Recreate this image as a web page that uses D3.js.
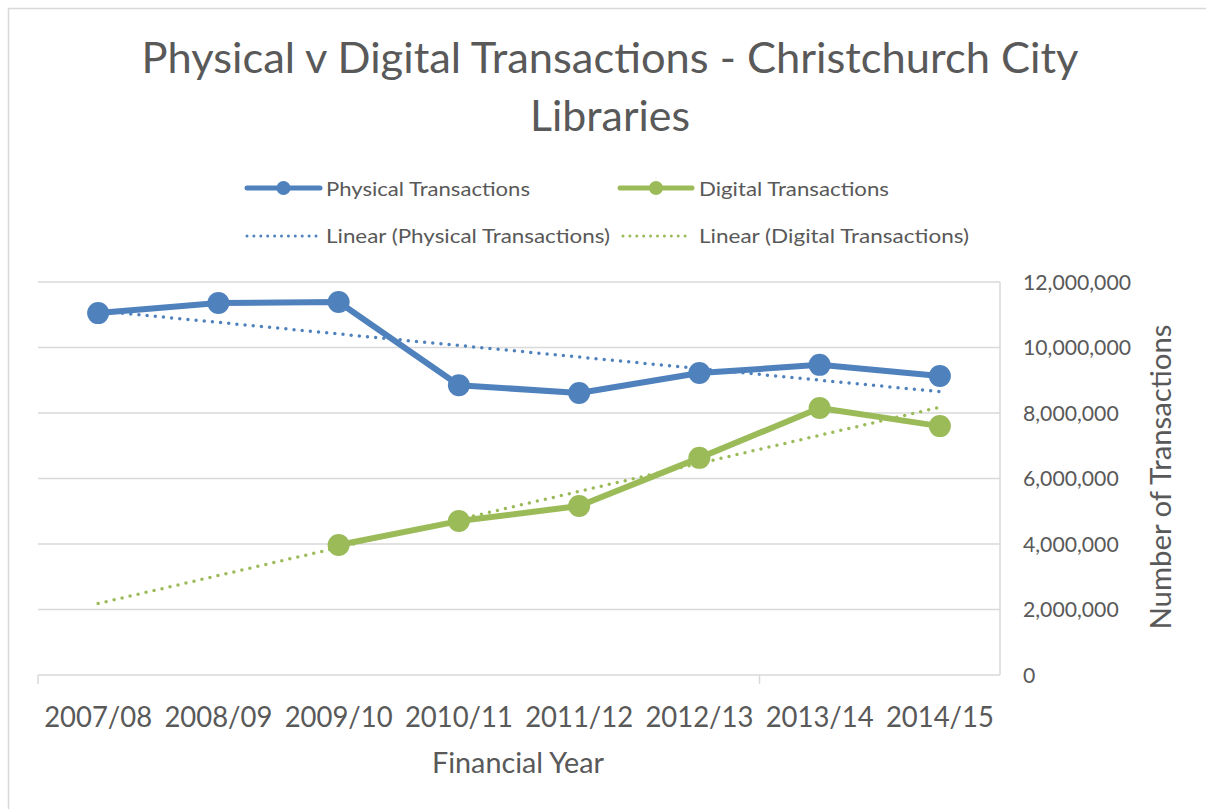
<!DOCTYPE html>
<html>
<head>
<meta charset="utf-8">
<script src="https://cdn.jsdelivr.net/npm/d3@7"></script>
<style>
  html, body { margin: 0; padding: 0; background: #fff; }
  svg { display: block; }
  text { font-family: Lato, "Open Sans", sans-serif; fill: #595959; }
</style>
</head>
<body>
<svg id="chart" width="1206" height="809"></svg>
<script>
// ---- Data ----
const categories = ["2007/08", "2008/09", "2009/10", "2010/11", "2011/12", "2012/13", "2013/14", "2014/15"];
const physicalValues = [11050000, 11360000, 11390000, 8850000, 8610000, 9220000, 9470000, 9130000];
const digitalValues  = [null, null, 3970000, 4700000, 5160000, 6630000, 8150000, 7600000];
const yTicks = [0, 2000000, 4000000, 6000000, 8000000, 10000000, 12000000];
const seriesNames = ["Physical Transactions", "Digital Transactions"];
const trendNames = ["Linear (Physical Transactions)", "Linear (Digital Transactions)"];
const titleLines = ["Physical v Digital Transactions - Christchurch City", "Libraries"];
const xTitle = "Financial Year";
const yTitle = "Number of Transactions";

// ---- Styles ----
const BLUE = "#4F81BD", GREEN = "#9BBB59", GRID = "#d9d9d9", TEXT = "#595959";

const svg = d3.select("#chart");

function fit(sel, target) {
  sel.attr("textLength", target).attr("lengthAdjust", "spacingAndGlyphs");
  return sel;
}

// chart border (top & left visible)
svg.append("path").attr("d", "M8.5,809 L8.5,8.5 L1206,8.5")
  .attr("fill", "none").attr("stroke", GRID).attr("stroke-width", 1.5);

// ---- Scales ----
const x = d3.scaleBand().domain(categories).range([38, 1000]).padding(0);
const cx = d => x(d) + x.bandwidth() / 2;
const y = d3.scaleLinear().domain([0, 12000000]).range([675, 282]);

// ---- Gridlines ----
svg.append("g").selectAll("line").data(yTicks.filter(d => d > 0)).join("line")
  .attr("x1", 38).attr("x2", 1000)
  .attr("y1", d => y(d)).attr("y2", d => y(d))
  .attr("stroke", GRID).attr("stroke-width", 1.5);

// right axis line
svg.append("line").attr("x1", 1000).attr("x2", 1000).attr("y1", y(12000000)).attr("y2", y(0))
  .attr("stroke", GRID).attr("stroke-width", 1.5);

// x axis
const xAxis = d3.axisBottom(x).tickSize(0).tickFormat(() => "");
const xg = svg.append("g").attr("transform", `translate(0,${y(0)})`).call(xAxis);
xg.select(".domain").attr("stroke", GRID).attr("stroke-width", 1.5).attr("d", "M38,0H1000");
// tick marks at category boundaries (every 6th)
const boundaries = [0, 6];
xg.selectAll("line.tk").data(boundaries).join("line").attr("class", "tk")
  .attr("x1", d => 38 + d * x.bandwidth()).attr("x2", d => 38 + d * x.bandwidth())
  .attr("y1", 0).attr("y2", 9).attr("stroke", GRID).attr("stroke-width", 1.5);

// x labels
svg.append("g").selectAll("text").data(categories).join("text")
  .attr("x", d => cx(d)).attr("y", 727).attr("text-anchor", "middle")
  .style("font-size", "28px").text(d => d)
  .call(s => fit(s, 108));

// y labels (right side)
const fmt = d3.format(",");
const yl = svg.append("g").selectAll("text").data(yTicks).join("text")
  .attr("x", 1023).attr("y", d => y(d) + 7.5).attr("text-anchor", "start")
  .style("font-size", "21px").text(d => fmt(d));
// compress tick labels to Calibri-like width
let refW = 0;
yl.each(function(d) { if (d === 12000000) refW = this.getComputedTextLength(); });
const k = 108 / refW;
yl.each(function() { const w = this.getComputedTextLength(); d3.select(this).call(s => fit(s, w * k)); });

// axis titles
fit(svg.append("text").attr("x", 518).attr("y", 773).attr("text-anchor", "middle")
  .style("font-size", "28px").text(xTitle), 172);
fit(svg.append("text").attr("transform", "translate(1171,477) rotate(-90)")
  .attr("text-anchor", "middle").style("font-size", "29px").text(yTitle), 305);

// title
fit(svg.append("text").attr("x", 610).attr("y", 73).attr("text-anchor", "middle")
  .style("font-size", "42px").text(titleLines[0]), 937);
fit(svg.append("text").attr("x", 610).attr("y", 131).attr("text-anchor", "middle")
  .style("font-size", "42px").text(titleLines[1]), 160);

// ---- Trendlines (least squares on category index) ----
function trend(vals) {
  const pts = vals.map((v, i) => [i + 1, v]).filter(p => p[1] != null);
  const n = pts.length;
  const mx = d3.mean(pts, p => p[0]), my = d3.mean(pts, p => p[1]);
  const sxy = d3.sum(pts, p => (p[0] - mx) * (p[1] - my));
  const sxx = d3.sum(pts, p => (p[0] - mx) ** 2);
  const b = sxy / sxx, a = my - b * mx;
  return [1, categories.length].map(i => [categories[i - 1], a + b * i]);
}
const lineT = d3.line().x(d => cx(d[0])).y(d => y(d[1]));
[[physicalValues, BLUE], [digitalValues, GREEN]].forEach(([vals, col]) => {
  svg.append("path").attr("d", lineT(trend(vals)))
    .attr("fill", "none").attr("stroke", col).attr("stroke-width", 3.5)
    .attr("stroke-linecap", "round").attr("stroke-dasharray", "0 8.2");
});

// ---- Series ----
const lineS = d3.line().defined(d => d.v != null).x(d => cx(d.c)).y(d => y(d.v));
[[physicalValues, BLUE], [digitalValues, GREEN]].forEach(([vals, col]) => {
  const data = categories.map((c, i) => ({ c, v: vals[i] }));
  svg.append("path").datum(data).attr("d", lineS)
    .attr("fill", "none").attr("stroke", col).attr("stroke-width", 6)
    .attr("stroke-linejoin", "round").attr("stroke-linecap", "round");
  svg.append("g").selectAll("circle").data(data.filter(d => d.v != null)).join("circle")
    .attr("cx", d => cx(d.c)).attr("cy", d => y(d.v)).attr("r", 11).attr("fill", col);
});

// ---- Legend ----
const legendItems = [
  { name: seriesNames[0], col: BLUE, type: "line", x0: 247, x1: 320, tx: 326, ty: 196, ly: 188, w: 204 },
  { name: seriesNames[1], col: GREEN, type: "line", x0: 620, x1: 692, tx: 699, ty: 196, ly: 188, w: 190 },
  { name: trendNames[0], col: BLUE, type: "dot", x0: 247, x1: 320, tx: 326, ty: 243, ly: 236, w: 284 },
  { name: trendNames[1], col: GREEN, type: "dot", x0: 623, x1: 692, tx: 699, ty: 243, ly: 236, w: 270 }
];
const lg = svg.append("g");
legendItems.forEach(it => {
  if (it.type === "line") {
    lg.append("line").attr("x1", it.x0).attr("x2", it.x1).attr("y1", it.ly).attr("y2", it.ly)
      .attr("stroke", it.col).attr("stroke-width", 5).attr("stroke-linecap", "round");
    lg.append("circle").attr("cx", (it.x0 + it.x1) / 2).attr("cy", it.ly).attr("r", 7).attr("fill", it.col);
  } else {
    lg.append("line").attr("x1", it.x0).attr("x2", it.x1).attr("y1", it.ly).attr("y2", it.ly)
      .attr("stroke", it.col).attr("stroke-width", 3).attr("stroke-linecap", "round")
      .attr("stroke-dasharray", "0 6.9");
  }
  fit(lg.append("text").attr("x", it.tx).attr("y", it.ty).style("font-size", "20px").text(it.name), it.w);
});
</script>
</body>
</html>
